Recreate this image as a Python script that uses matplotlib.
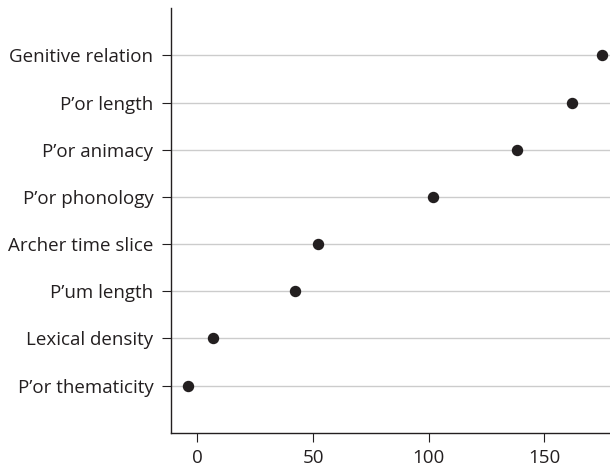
import matplotlib
matplotlib.use('Agg')
import matplotlib.pyplot as plt

# Valores
factores = ['P\u2019or thematicity', 'Lexical density', 'P\u2019um length',
            'Archer time slice', 'P\u2019or phonology', 'P\u2019or animacy',
            'P\u2019or length', 'Genitive relation']
valores = [-4, 7, 42, 52, 102, 138, 162, 175]
ticks_x = [0, 50, 100, 150]

plt.rcParams['font.family'] = ['Open Sans', 'DejaVu Sans']

fig = plt.figure(figsize=(6.1, 4.72), dpi=100)
ax = fig.add_axes([0.2798, 0.0833, 0.7202, 0.8991])

posiciones = list(range(1, len(factores) + 1))
for p in posiciones:
    ax.axhline(p, color='#cccccc', linewidth=1.0, zorder=1)
ax.plot(valores, posiciones, 'o', color='#231f20', markersize=7.2, zorder=3)

ax.set_xlim(-11.5, 178.3)
ax.set_ylim(0, 9)
ax.set_xticks(ticks_x)
ax.set_yticks(posiciones)
ax.set_yticklabels(factores)

for lado in ['top', 'right']:
    ax.spines[lado].set_visible(False)
for lado in ['left', 'bottom']:
    ax.spines[lado].set_color('#231f20')
    ax.spines[lado].set_linewidth(1.0)

ax.tick_params(axis='both', direction='out', length=6.5, width=0.8,
               color='#231f20', labelsize=13.5, labelcolor='#231f20')
ax.tick_params(axis='y', pad=6)
ax.tick_params(axis='x', pad=5)

plt.savefig('out.png', dpi=100)
